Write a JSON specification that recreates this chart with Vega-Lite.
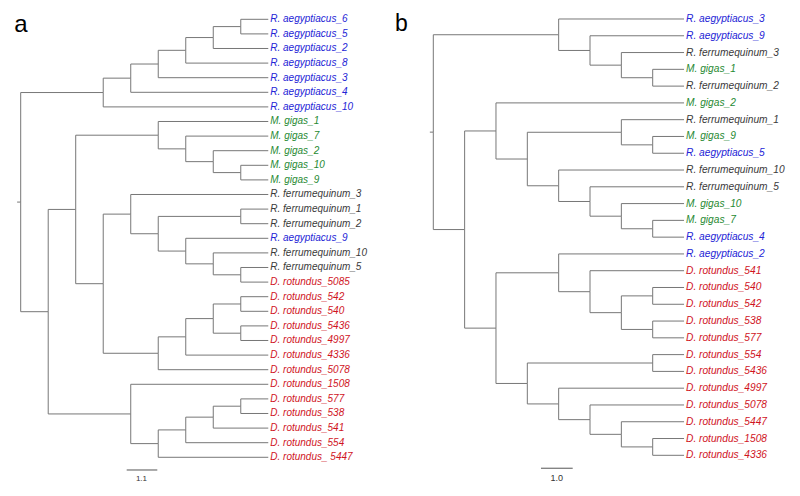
{
  "$schema": "https://vega.github.io/schema/vega-lite/v6.json",
  "padding": 0,
  "spacing": 0,
  "config": {"view": {"stroke": null}, "font": "Liberation Sans"},
  "datasets": {
    "ea": [
      {"px": -0.13, "py": 12.52, "cx": 0, "cy": 12.52},
      {"px": 0, "py": 12.52, "cx": 3, "cy": 5.016},
      {"px": 3, "py": 5.016, "cx": 4, "cy": 4.031},
      {"px": 4, "py": 4.031, "cx": 5, "cy": 3.063},
      {"px": 5, "py": 3.063, "cx": 6, "cy": 2.125},
      {"px": 6, "py": 2.125, "cx": 7, "cy": 1.25},
      {"px": 7, "py": 1.25, "cx": 8, "cy": 0.5},
      {"px": 8, "py": 0.5, "cx": 9, "cy": 0, "name": "R. aegyptiacus_6", "sp": "Ra"},
      {"px": 8, "py": 0.5, "cx": 9, "cy": 1, "name": "R. aegyptiacus_5", "sp": "Ra"},
      {"px": 7, "py": 1.25, "cx": 9, "cy": 2, "name": "R. aegyptiacus_2", "sp": "Ra"},
      {"px": 6, "py": 2.125, "cx": 9, "cy": 3, "name": "R. aegyptiacus_8", "sp": "Ra"},
      {"px": 5, "py": 3.063, "cx": 9, "cy": 4, "name": "R. aegyptiacus_3", "sp": "Ra"},
      {"px": 4, "py": 4.031, "cx": 9, "cy": 5, "name": "R. aegyptiacus_4", "sp": "Ra"},
      {"px": 3, "py": 5.016, "cx": 9, "cy": 6, "name": "R. aegyptiacus_10", "sp": "Ra"},
      {"px": 0, "py": 12.52, "cx": 1, "cy": 20.027},
      {"px": 1, "py": 20.027, "cx": 2, "cy": 13.023},
      {"px": 1, "py": 20.027, "cx": 4, "cy": 27.031},
      {"px": 2, "py": 13.023, "cx": 5, "cy": 7.938},
      {"px": 2, "py": 13.023, "cx": 3, "cy": 18.109},
      {"px": 5, "py": 7.938, "cx": 9, "cy": 7, "name": "M. gigas_1", "sp": "Mg"},
      {"px": 5, "py": 7.938, "cx": 6, "cy": 8.875},
      {"px": 6, "py": 8.875, "cx": 9, "cy": 8, "name": "M. gigas_7", "sp": "Mg"},
      {"px": 6, "py": 8.875, "cx": 7, "cy": 9.75},
      {"px": 7, "py": 9.75, "cx": 9, "cy": 9, "name": "M. gigas_2", "sp": "Mg"},
      {"px": 7, "py": 9.75, "cx": 8, "cy": 10.5},
      {"px": 8, "py": 10.5, "cx": 9, "cy": 10, "name": "M. gigas_10", "sp": "Mg"},
      {"px": 8, "py": 10.5, "cx": 9, "cy": 11, "name": "M. gigas_9", "sp": "Mg"},
      {"px": 3, "py": 18.109, "cx": 4, "cy": 13.344},
      {"px": 3, "py": 18.109, "cx": 5, "cy": 22.875},
      {"px": 4, "py": 13.344, "cx": 9, "cy": 12, "name": "R. ferrumequinum_3", "sp": "Rf"},
      {"px": 4, "py": 13.344, "cx": 5, "cy": 14.688},
      {"px": 5, "py": 14.688, "cx": 8, "cy": 13.5},
      {"px": 8, "py": 13.5, "cx": 9, "cy": 13, "name": "R. ferrumequinum_1", "sp": "Rf"},
      {"px": 8, "py": 13.5, "cx": 9, "cy": 14, "name": "R. ferrumequinum_2", "sp": "Rf"},
      {"px": 5, "py": 14.688, "cx": 6, "cy": 15.875},
      {"px": 6, "py": 15.875, "cx": 9, "cy": 15, "name": "R. aegyptiacus_9", "sp": "Ra"},
      {"px": 6, "py": 15.875, "cx": 7, "cy": 16.75},
      {"px": 7, "py": 16.75, "cx": 9, "cy": 16, "name": "R. ferrumequinum_10", "sp": "Rf"},
      {"px": 7, "py": 16.75, "cx": 8, "cy": 17.5},
      {"px": 8, "py": 17.5, "cx": 9, "cy": 17, "name": "R. ferrumequinum_5", "sp": "Rf"},
      {"px": 8, "py": 17.5, "cx": 9, "cy": 18, "name": "D. rotundus_5085", "sp": "Dr"},
      {"px": 5, "py": 22.875, "cx": 6, "cy": 21.75},
      {"px": 5, "py": 22.875, "cx": 9, "cy": 24, "name": "D. rotundus_5078", "sp": "Dr"},
      {"px": 6, "py": 21.75, "cx": 7, "cy": 20.5},
      {"px": 6, "py": 21.75, "cx": 9, "cy": 23, "name": "D. rotundus_4336", "sp": "Dr"},
      {"px": 7, "py": 20.5, "cx": 8, "cy": 19.5},
      {"px": 7, "py": 20.5, "cx": 8, "cy": 21.5},
      {"px": 8, "py": 19.5, "cx": 9, "cy": 19, "name": "D. rotundus_542", "sp": "Dr"},
      {"px": 8, "py": 19.5, "cx": 9, "cy": 20, "name": "D. rotundus_540", "sp": "Dr"},
      {"px": 8, "py": 21.5, "cx": 9, "cy": 21, "name": "D. rotundus_5436", "sp": "Dr"},
      {"px": 8, "py": 21.5, "cx": 9, "cy": 22, "name": "D. rotundus_4997", "sp": "Dr"},
      {"px": 4, "py": 27.031, "cx": 9, "cy": 25, "name": "D. rotundus_1508", "sp": "Dr"},
      {"px": 4, "py": 27.031, "cx": 5, "cy": 29.063},
      {"px": 5, "py": 29.063, "cx": 6, "cy": 28.125},
      {"px": 5, "py": 29.063, "cx": 9, "cy": 30, "name": "D. rotundus_ 5447", "sp": "Dr"},
      {"px": 6, "py": 28.125, "cx": 7, "cy": 27.25},
      {"px": 6, "py": 28.125, "cx": 9, "cy": 29, "name": "D. rotundus_554", "sp": "Dr"},
      {"px": 7, "py": 27.25, "cx": 8, "cy": 26.5},
      {"px": 7, "py": 27.25, "cx": 9, "cy": 28, "name": "D. rotundus_541", "sp": "Dr"},
      {"px": 8, "py": 26.5, "cx": 9, "cy": 26, "name": "D. rotundus_577", "sp": "Dr"},
      {"px": 8, "py": 26.5, "cx": 9, "cy": 27, "name": "D. rotundus_538", "sp": "Dr"}
    ],
    "eb": [
      {"px": -0.11, "py": 6.742, "cx": 0, "cy": 6.742},
      {"px": 0, "py": 6.742, "cx": 4, "cy": 0.938},
      {"px": 4, "py": 0.938, "cx": 8, "cy": 0, "name": "R. aegyptiacus_3", "sp": "Ra"},
      {"px": 4, "py": 0.938, "cx": 5, "cy": 1.875},
      {"px": 5, "py": 1.875, "cx": 8, "cy": 1, "name": "R. aegyptiacus_9", "sp": "Ra"},
      {"px": 5, "py": 1.875, "cx": 6, "cy": 2.75},
      {"px": 6, "py": 2.75, "cx": 8, "cy": 2, "name": "R. ferrumequinum_3", "sp": "Rf"},
      {"px": 6, "py": 2.75, "cx": 7, "cy": 3.5},
      {"px": 7, "py": 3.5, "cx": 8, "cy": 3, "name": "M. gigas_1", "sp": "Mg"},
      {"px": 7, "py": 3.5, "cx": 8, "cy": 4, "name": "R. ferrumequinum_2", "sp": "Rf"},
      {"px": 0, "py": 6.742, "cx": 1, "cy": 12.547},
      {"px": 1, "py": 12.547, "cx": 2, "cy": 6.672},
      {"px": 1, "py": 12.547, "cx": 2, "cy": 18.422},
      {"px": 2, "py": 6.672, "cx": 8, "cy": 5, "name": "M. gigas_2", "sp": "Mg"},
      {"px": 2, "py": 6.672, "cx": 3, "cy": 8.344},
      {"px": 3, "py": 8.344, "cx": 6, "cy": 6.75},
      {"px": 3, "py": 8.344, "cx": 4, "cy": 9.938},
      {"px": 6, "py": 6.75, "cx": 8, "cy": 6, "name": "R. ferrumequinum_1", "sp": "Rf"},
      {"px": 6, "py": 6.75, "cx": 7, "cy": 7.5},
      {"px": 7, "py": 7.5, "cx": 8, "cy": 7, "name": "M. gigas_9", "sp": "Mg"},
      {"px": 7, "py": 7.5, "cx": 8, "cy": 8, "name": "R. aegyptiacus_5", "sp": "Ra"},
      {"px": 4, "py": 9.938, "cx": 8, "cy": 9, "name": "R. ferrumequinum_10", "sp": "Rf"},
      {"px": 4, "py": 9.938, "cx": 5, "cy": 10.875},
      {"px": 5, "py": 10.875, "cx": 8, "cy": 10, "name": "R. ferrumequinum_5", "sp": "Rf"},
      {"px": 5, "py": 10.875, "cx": 6, "cy": 11.75},
      {"px": 6, "py": 11.75, "cx": 8, "cy": 11, "name": "M. gigas_10", "sp": "Mg"},
      {"px": 6, "py": 11.75, "cx": 7, "cy": 12.5},
      {"px": 7, "py": 12.5, "cx": 8, "cy": 12, "name": "M. gigas_7", "sp": "Mg"},
      {"px": 7, "py": 12.5, "cx": 8, "cy": 13, "name": "R. aegyptiacus_4", "sp": "Ra"},
      {"px": 2, "py": 18.422, "cx": 4, "cy": 15.125},
      {"px": 2, "py": 18.422, "cx": 3, "cy": 21.719},
      {"px": 4, "py": 15.125, "cx": 8, "cy": 14, "name": "R. aegyptiacus_2", "sp": "Ra"},
      {"px": 4, "py": 15.125, "cx": 5, "cy": 16.25},
      {"px": 5, "py": 16.25, "cx": 8, "cy": 15, "name": "D. rotundus_541", "sp": "Dr"},
      {"px": 5, "py": 16.25, "cx": 6, "cy": 17.5},
      {"px": 6, "py": 17.5, "cx": 7, "cy": 16.5},
      {"px": 6, "py": 17.5, "cx": 7, "cy": 18.5},
      {"px": 7, "py": 16.5, "cx": 8, "cy": 16, "name": "D. rotundus_540", "sp": "Dr"},
      {"px": 7, "py": 16.5, "cx": 8, "cy": 17, "name": "D. rotundus_542", "sp": "Dr"},
      {"px": 7, "py": 18.5, "cx": 8, "cy": 18, "name": "D. rotundus_538", "sp": "Dr"},
      {"px": 7, "py": 18.5, "cx": 8, "cy": 19, "name": "D. rotundus_577", "sp": "Dr"},
      {"px": 3, "py": 21.719, "cx": 7, "cy": 20.5},
      {"px": 7, "py": 20.5, "cx": 8, "cy": 20, "name": "D. rotundus_554", "sp": "Dr"},
      {"px": 7, "py": 20.5, "cx": 8, "cy": 21, "name": "D. rotundus_5436", "sp": "Dr"},
      {"px": 3, "py": 21.719, "cx": 4, "cy": 22.938},
      {"px": 4, "py": 22.938, "cx": 8, "cy": 22, "name": "D. rotundus_4997", "sp": "Dr"},
      {"px": 4, "py": 22.938, "cx": 5, "cy": 23.875},
      {"px": 5, "py": 23.875, "cx": 8, "cy": 23, "name": "D. rotundus_5078", "sp": "Dr"},
      {"px": 5, "py": 23.875, "cx": 6, "cy": 24.75},
      {"px": 6, "py": 24.75, "cx": 8, "cy": 24, "name": "D. rotundus_5447", "sp": "Dr"},
      {"px": 6, "py": 24.75, "cx": 7, "cy": 25.5},
      {"px": 7, "py": 25.5, "cx": 8, "cy": 25, "name": "D. rotundus_1508", "sp": "Dr"},
      {"px": 7, "py": 25.5, "cx": 8, "cy": 26, "name": "D. rotundus_4336", "sp": "Dr"}
    ]
  },
  "hconcat": [
    {
      "width": 385,
      "height": 496,
      "layer": [
        {
          "data": {"name": "ea"},
          "mark": {"type": "rule", "color": "#777777", "strokeWidth": 1},
          "encoding": {
            "x": {"field": "px", "type": "quantitative", "scale": {"domain": [-0.7525, 13.243], "nice": false, "zero": false}, "axis": null},
            "y": {"field": "py", "type": "quantitative", "scale": {"domain": [-1.3219, 32.651], "nice": false, "zero": false, "reverse": true}, "axis": null},
            "y2": {"field": "cy"}
          }
        },
        {
          "data": {"name": "ea"},
          "mark": {"type": "rule", "color": "#777777", "strokeWidth": 1},
          "encoding": {
            "x": {"field": "px", "type": "quantitative", "scale": {"domain": [-0.7525, 13.243], "nice": false, "zero": false}, "axis": null},
            "x2": {"field": "cx"},
            "y": {"field": "cy", "type": "quantitative", "scale": {"domain": [-1.3219, 32.651], "nice": false, "zero": false, "reverse": true}, "axis": null}
          }
        },
        {
          "data": {"name": "ea"},
          "transform": [{"filter": "datum.name"}],
          "mark": {"type": "text", "align": "left", "baseline": "middle", "dx": 2, "fontSize": 10, "fontStyle": "italic"},
          "encoding": {
            "x": {"field": "cx", "type": "quantitative", "scale": {"domain": [-0.7525, 13.243], "nice": false, "zero": false}, "axis": null},
            "y": {"field": "cy", "type": "quantitative", "scale": {"domain": [-1.3219, 32.651], "nice": false, "zero": false, "reverse": true}, "axis": null},
            "text": {"field": "name"},
            "color": {"field": "sp", "type": "nominal", "legend": null, "scale": {"domain": ["Ra", "Mg", "Rf", "Dr"], "range": ["#2424d6", "#1f8a32", "#3a3a3a", "#d0141e"]}}
          }
        },
        {
          "data": {"values": [{"x1": 3.853, "x2": 4.966, "y": 30.87}]},
          "mark": {"type": "rule", "color": "#555555", "strokeWidth": 1},
          "encoding": {
            "x": {"field": "x1", "type": "quantitative", "scale": {"domain": [-0.7525, 13.243], "nice": false, "zero": false}, "axis": null},
            "x2": {"field": "x2"},
            "y": {"field": "y", "type": "quantitative", "scale": {"domain": [-1.3219, 32.651], "nice": false, "zero": false, "reverse": true}, "axis": null}
          }
        },
        {
          "data": {"values": [{"x": 4.39, "y": 31.51, "t": "1.1"}]},
          "mark": {"type": "text", "align": "center", "baseline": "middle", "fontSize": 8, "color": "#333333"},
          "encoding": {
            "x": {"field": "x", "type": "quantitative", "scale": {"domain": [-0.7525, 13.243], "nice": false, "zero": false}, "axis": null},
            "y": {"field": "y", "type": "quantitative", "scale": {"domain": [-1.3219, 32.651], "nice": false, "zero": false, "reverse": true}, "axis": null},
            "text": {"field": "t"}
          }
        },
        {
          "data": {"values": [{"x": -0.233, "y": 0.849, "t": "a"}]},
          "mark": {"type": "text", "align": "left", "baseline": "alphabetic", "fontSize": 24, "color": "#000000"},
          "encoding": {
            "x": {"field": "x", "type": "quantitative", "scale": {"domain": [-0.7525, 13.243], "nice": false, "zero": false}, "axis": null},
            "y": {"field": "y", "type": "quantitative", "scale": {"domain": [-1.3219, 32.651], "nice": false, "zero": false, "reverse": true}, "axis": null},
            "text": {"field": "t"}
          }
        }
      ]
    },
    {
      "width": 415,
      "height": 496,
      "layer": [
        {
          "data": {"name": "eb"},
          "mark": {"type": "rule", "color": "#777777", "strokeWidth": 1},
          "encoding": {
            "x": {"field": "px", "type": "quantitative", "scale": {"domain": [-1.541, 11.70], "nice": false, "zero": false}, "axis": null},
            "y": {"field": "py", "type": "quantitative", "scale": {"domain": [-1.1322, 28.425], "nice": false, "zero": false, "reverse": true}, "axis": null},
            "y2": {"field": "cy"}
          }
        },
        {
          "data": {"name": "eb"},
          "mark": {"type": "rule", "color": "#777777", "strokeWidth": 1},
          "encoding": {
            "x": {"field": "px", "type": "quantitative", "scale": {"domain": [-1.541, 11.70], "nice": false, "zero": false}, "axis": null},
            "x2": {"field": "cx"},
            "y": {"field": "cy", "type": "quantitative", "scale": {"domain": [-1.1322, 28.425], "nice": false, "zero": false, "reverse": true}, "axis": null}
          }
        },
        {
          "data": {"name": "eb"},
          "transform": [{"filter": "datum.name"}],
          "mark": {"type": "text", "align": "left", "baseline": "middle", "dx": 2, "fontSize": 10.2, "fontStyle": "italic"},
          "encoding": {
            "x": {"field": "cx", "type": "quantitative", "scale": {"domain": [-1.541, 11.70], "nice": false, "zero": false}, "axis": null},
            "y": {"field": "cy", "type": "quantitative", "scale": {"domain": [-1.1322, 28.425], "nice": false, "zero": false, "reverse": true}, "axis": null},
            "text": {"field": "name"},
            "color": {"field": "sp", "type": "nominal", "legend": null, "scale": {"domain": ["Ra", "Mg", "Rf", "Dr"], "range": ["#2424d6", "#1f8a32", "#3a3a3a", "#d0141e"]}}
          }
        },
        {
          "data": {"values": [{"x1": 3.436, "x2": 4.448, "y": 26.77}]},
          "mark": {"type": "rule", "color": "#555555", "strokeWidth": 1},
          "encoding": {
            "x": {"field": "x1", "type": "quantitative", "scale": {"domain": [-1.541, 11.70], "nice": false, "zero": false}, "axis": null},
            "x2": {"field": "x2"},
            "y": {"field": "y", "type": "quantitative", "scale": {"domain": [-1.1322, 28.425], "nice": false, "zero": false, "reverse": true}, "axis": null}
          }
        },
        {
          "data": {"values": [{"x": 3.94, "y": 27.35, "t": "1.0"}]},
          "mark": {"type": "text", "align": "center", "baseline": "middle", "fontSize": 9, "color": "#333333"},
          "encoding": {
            "x": {"field": "x", "type": "quantitative", "scale": {"domain": [-1.541, 11.70], "nice": false, "zero": false}, "axis": null},
            "y": {"field": "y", "type": "quantitative", "scale": {"domain": [-1.1322, 28.425], "nice": false, "zero": false, "reverse": true}, "axis": null},
            "text": {"field": "t"}
          }
        },
        {
          "data": {"values": [{"x": -1.222, "y": 0.697, "t": "b"}]},
          "mark": {"type": "text", "align": "left", "baseline": "alphabetic", "fontSize": 23, "color": "#000000"},
          "encoding": {
            "x": {"field": "x", "type": "quantitative", "scale": {"domain": [-1.541, 11.70], "nice": false, "zero": false}, "axis": null},
            "y": {"field": "y", "type": "quantitative", "scale": {"domain": [-1.1322, 28.425], "nice": false, "zero": false, "reverse": true}, "axis": null},
            "text": {"field": "t"}
          }
        }
      ]
    }
  ]
}
